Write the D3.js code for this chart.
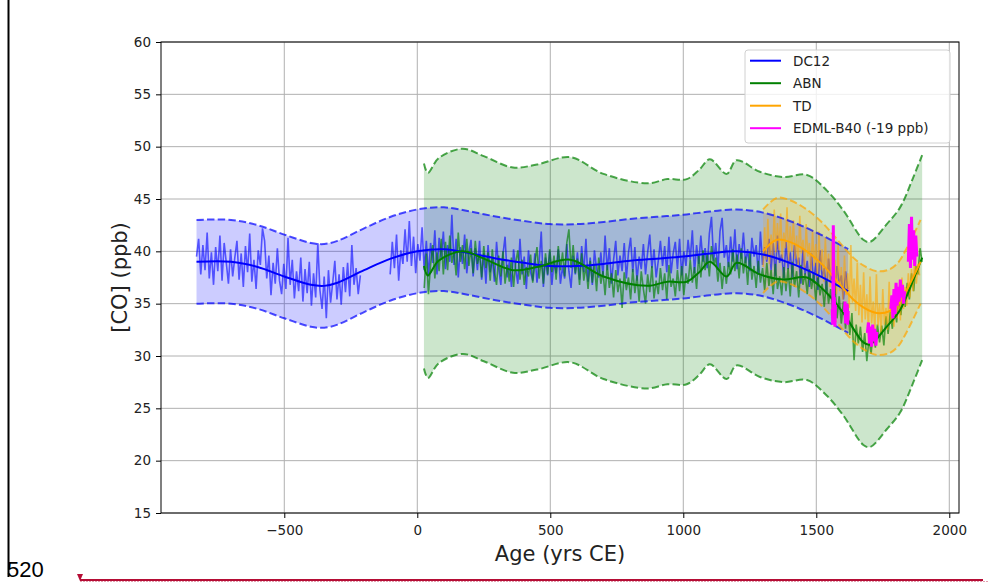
<!DOCTYPE html>
<html>
<head>
<meta charset="utf-8">
<script src="https://cdn.jsdelivr.net/npm/d3@7"></script>
<style>
body { margin: 0; background: #fff; }
svg { display: block; font-family: "DejaVu Sans", sans-serif; }
</style>
</head>
<body>
<script>

/* DATA */

const xTicks = [-500, 0, 500, 1000, 1500, 2000];
const yTicks = [15, 20, 25, 30, 35, 40, 45, 50, 55, 60];

//DC12 raw record, two stretches sampled every 8 years.
const dc12AgesA = d3.range(-830, -210, 8);
const dc12RawA = [
    39.5, 41.2, 37.8, 40.6, 38.2, 41.8, 37.4, 39.9, 36.8, 40.4,
    38.1, 41.5, 37.2, 40.8, 38.9, 36.9, 40.2, 37.6, 39.4, 41.0,
    37.3, 39.8, 36.6, 40.5, 38.0, 41.7, 37.1, 39.2, 36.4, 40.1,
    38.7, 42.2, 41.0, 37.4, 39.6, 35.8, 38.9, 36.9, 40.3, 37.2,
    35.9, 38.8, 36.4, 41.3, 36.8, 39.2, 35.5, 38.1, 36.2, 39.4,
    35.2, 38.3, 36.0, 39.0, 34.8, 37.9, 35.6, 40.8, 36.3, 34.5,
    37.6, 33.6, 38.2, 35.1, 37.0, 39.1, 35.4, 37.8, 34.9, 38.5,
    36.1, 38.9, 35.7, 40.6, 36.8, 38.4, 35.9, 37.7
];
const dc12AgesB = d3.range(-102, 1620, 8);
const dc12RawB = [
    37.8, 40.9, 38.4, 41.6, 37.2, 40.1, 38.8, 42.1, 39.0,
    42.9, 38.6, 41.4, 37.9, 40.7, 39.1, 42.3, 38.2, 41.0, 37.6,
    40.8, 38.9, 42.0, 37.8, 41.3, 39.4, 41.9, 38.3, 40.6, 39.0,
    43.5, 38.7, 41.2, 37.5, 40.4, 38.8, 41.6, 37.9, 39.9, 41.1,
    37.6, 40.3, 38.2, 41.0, 37.3, 39.8, 36.9, 40.6, 38.0, 39.3,
    37.1, 40.9, 38.4, 36.8, 39.7, 41.4, 37.5, 39.0, 36.6, 40.2,
    38.3, 36.9, 41.2, 37.8, 39.5, 36.4, 40.1, 38.0, 37.2, 39.8,
    37.0, 38.9, 41.9, 36.6, 39.4, 37.7, 40.0, 36.8, 39.1, 37.9,
    40.2, 36.9, 38.5, 37.4, 40.7, 38.1, 36.5, 39.6, 37.8, 39.9,
    37.3, 40.5, 38.0, 41.2, 37.1, 39.4, 36.8, 40.1, 38.3, 37.5,
    39.9, 37.6, 41.5, 38.2, 40.3, 36.9, 39.2, 41.0, 37.7, 39.6,
    38.1, 40.8, 37.4, 39.9, 41.3, 38.0, 40.4, 37.2, 39.5, 38.3,
    40.7, 37.8, 39.9, 41.6, 38.4, 40.2, 37.5, 39.1, 41.0, 38.6,
    40.5, 38.0, 41.4, 37.9, 39.8, 40.9, 38.3, 41.2, 37.7, 40.0,
    38.6, 41.1, 39.2, 42.0, 37.9, 40.6, 38.8, 41.5, 39.0, 40.3,
    38.4, 41.7, 43.3, 39.1, 40.8, 38.2, 41.9, 43.2, 39.4, 40.6,
    38.5, 41.4, 39.0, 42.1, 38.3, 40.7, 39.3, 41.8, 38.9, 40.2,
    38.1, 41.3, 39.5, 40.6, 37.8, 41.9, 38.7, 40.4, 39.0, 41.2,
    38.2, 40.8, 37.6, 41.5, 38.9, 39.7, 37.4, 40.9, 38.3, 39.9,
    37.5, 40.6, 38.7, 39.4, 36.9, 40.2, 37.8, 39.1, 36.6, 39.8,
    37.0, 38.9, 36.3, 40.1, 37.5, 38.4, 36.1, 39.3, 37.2, 38.0,
    35.8, 38.6, 36.9, 37.7, 35.4, 38.1, 36.4
];
const dc12SmoothAges = [-830, -700, -600, -500, -400, -350, -300, -200, -100, 0, 100, 200, 300, 400, 500, 600, 700, 800, 900, 1000, 1100, 1200, 1300, 1400, 1500, 1620];
const dc12Smooth = [39.0, 39.0, 38.5, 37.6, 36.8, 36.7, 37.0, 38.2, 39.3, 40.0, 40.2, 39.8, 39.3, 38.9, 38.6, 38.6, 38.8, 39.1, 39.3, 39.5, 39.8, 40.0, 39.7, 38.9, 37.8, 36.2];
const dc12Band = 4.0;

//ABN raw record, every 8 years.
const abnAges = d3.range(26, 1900, 8);
const abnRaw = [
    36.5, 39.8, 35.9, 38.7, 40.6, 37.4, 39.9, 38.1, 41.2, 37.8,
    40.9, 38.2, 41.5, 38.9, 40.1, 37.7, 41.8, 39.0, 40.6, 38.3,
    41.2, 38.6, 40.3, 37.9, 41.0, 38.8, 39.7, 37.5, 40.5, 38.4,
    39.9, 37.2, 40.2, 38.0, 36.8, 39.6, 37.6, 40.0, 36.9, 38.7,
    37.1, 39.4, 36.6, 38.9, 40.1, 37.3, 39.2, 36.8, 38.5, 37.6,
    39.7, 37.0, 38.9, 40.4, 37.4, 39.1, 36.9, 39.8, 37.8, 40.2,
    38.0, 39.6, 37.3, 40.5, 38.2, 39.9, 37.6, 40.8, 42.1, 38.4,
    40.6, 37.9, 39.3, 36.8, 39.8, 37.2, 38.6, 36.4, 39.1, 37.0,
    38.8, 36.2, 39.4, 36.9, 38.1, 35.8, 38.7, 36.5, 37.9, 35.6,
    38.2, 36.1, 37.4, 34.6, 38.0, 36.3, 37.5, 35.4, 38.3, 36.0,
    37.7, 35.2, 38.1, 36.4, 35.0, 37.8, 36.1, 38.6, 35.5, 37.2,
    35.9, 38.4, 36.3, 37.9, 35.4, 38.7, 36.6, 37.4, 35.7, 38.2,
    36.2, 38.6, 35.8, 37.9, 36.9, 39.2, 37.0, 38.5, 36.4, 39.6,
    37.5, 40.1, 38.2, 39.8, 37.6, 40.5, 38.7, 39.4, 37.1, 38.9,
    36.4, 38.6, 36.9, 39.0, 37.8, 40.2, 38.1, 39.7, 37.4, 40.3,
    37.9, 39.5, 36.8, 39.9, 37.3, 38.6, 36.5, 39.1, 37.0, 38.4,
    36.3, 38.9, 36.7, 38.2, 35.9, 38.8, 36.4, 37.6, 35.8, 38.5,
    36.2, 38.4, 35.7, 39.0, 36.6, 38.1, 35.6, 38.7, 36.8, 37.9,
    35.9, 38.3, 36.4, 37.8, 35.3, 37.6, 35.8, 36.9, 34.7, 37.2,
    35.0, 36.4, 34.2, 36.8, 33.6, 35.7, 33.1, 35.2, 32.6, 34.9,
    32.0, 34.1, 29.6, 33.0, 31.2, 32.8, 30.4, 32.2, 29.5, 31.6,
    30.2, 32.4, 30.8, 33.0, 31.3, 32.9, 31.0, 33.8, 32.1, 34.2,
    32.6, 34.8, 33.2, 35.6, 33.9, 36.1, 34.7, 37.0, 35.4, 37.9,
    36.2, 38.6, 37.8, 40.3, 39.0
];
const abnSmoothAges = [25, 40, 80, 170, 250, 360, 450, 575, 700, 864, 940, 1013, 1060, 1100, 1163, 1200, 1288, 1375, 1465, 1540, 1602, 1677, 1702, 1765, 1815, 1865, 1898];
const abnSmooth = [38.6, 37.7, 39.1, 40.0, 39.3, 38.2, 38.5, 39.2, 37.6, 36.7, 37.1, 37.1, 38.0, 39.0, 37.6, 38.9, 37.8, 37.3, 37.5, 36.0, 34.1, 31.3, 31.1, 32.8, 34.4, 37.3, 39.4];
const abnBand = 9.8;

//TD raw record, every 6 years.
const tdAges = d3.range(1300, 1892, 6);
const tdRaw = [
    38.5, 42.3, 39.2, 43.1, 38.8, 41.6, 39.6, 44.0, 39.9, 42.7,
    40.1, 43.6, 39.4, 41.8, 40.3, 44.2, 39.1, 42.4, 40.0, 43.0,
    39.3, 41.5, 38.7, 43.4, 39.8, 41.1, 38.4, 42.6, 39.5, 40.8,
    37.9, 42.0, 38.6, 40.7, 37.5, 41.9, 38.2, 40.2, 37.1, 41.3,
    37.4, 39.8, 36.6, 40.9, 37.0, 39.2, 35.9, 40.6, 36.2, 38.5,
    35.4, 39.6, 35.8, 37.9, 34.6, 40.6, 35.1, 37.4, 34.3, 38.9,
    33.9, 36.8, 33.2, 38.0, 33.5, 35.9, 32.6, 37.6, 33.1, 35.2,
    32.4, 37.8, 32.9, 35.0, 32.2, 36.4, 33.0, 34.6, 32.5, 37.1,
    33.1, 35.3, 32.8, 36.9, 33.6, 35.8, 33.4, 37.5, 34.5, 36.6,
    34.8, 37.9, 35.6, 38.3, 36.2, 39.6, 36.9, 38.8, 37.7
];
const tdSmoothAges = [1300, 1351, 1400, 1464, 1520, 1563, 1600, 1639, 1680, 1728, 1777, 1810, 1840, 1892];
const tdSmooth = [40.0, 41.1, 40.9, 40.0, 38.8, 37.6, 36.5, 35.4, 34.6, 34.1, 34.3, 35.0, 36.3, 39.0];
const tdBand = 4.0;

//EDML-B40 (shifted -19 ppb), null marks a gap between stretches.
const edmlAges = [
    1560, 1562, 1564, 1566, 1568, 1570, 1572, 1590,
    1606, 1608, 1610, 1612, 1614, 1616, 1618, 1620, 1650,
    1692, 1696, 1700, 1704, 1708, 1712, 1716, 1720, 1724, 1728, 1750,
    1780, 1784, 1788, 1792, 1796, 1800, 1804, 1808, 1812, 1816, 1820, 1824, 1828, 1832, 1840,
    1846, 1850, 1854, 1858, 1862, 1866, 1870, 1874, 1878
];
const edmlValues = [
    34.5, 33.0, 42.5, 33.4, 35.6, 32.8, 34.9, null,
    34.2, 35.2, 33.1, 34.9, 33.4, 35.0, 33.0, 34.3, null,
    32.2, 33.2, 31.2, 32.8, 30.9, 33.0, 31.4, 32.6, 31.0, 32.3, null,
    34.5, 35.8, 33.6, 36.4, 34.0, 37.0, 34.8, 36.6, 35.2, 37.3, 35.6, 36.8, 35.0, 36.2, null,
    39.0, 42.6, 38.4, 43.3, 39.2, 42.0, 38.6, 41.5, 39.5
];

const legendLabels = ["DC12", "ABN", "TD", "EDML-B40 (-19 ppb)"];
const legendColors = ["blue", "green", "orange", "magenta"];


/* CONSTANTS */

const width = 989;
const height = 584;
const plot = {left: 161, right: 959, top: 42, bottom: 513};
const dash = "7.4,3.2";

const svg = d3.select("body").append("svg")
    .attr("width", width)
    .attr("height", height);

svg.append("rect")
    .attr("width", width)
    .attr("height", height)
    .attr("fill", "white");

const x = d3.scaleLinear().domain([-963.5, 2036.5]).range([plot.left, plot.right]);
const y = d3.scaleLinear().domain([15, 60]).range([plot.bottom, plot.top]);

const pairs = (ages, vals) => ages.map((a, i) => [a, vals[i]]);

const rawLine = d3.line()
    .defined((d) => d[1] != null)
    .x((d) => x(d[0]))
    .y((d) => y(d[1]));

const smoothLine = (shift) => d3.line()
    .x((d) => x(d[0]))
    .y((d) => y(d[1] + shift))
    .curve(d3.curveCatmullRom);

const bandArea = (h) => d3.area()
    .x((d) => x(d[0]))
    .y0((d) => y(d[1] - h))
    .y1((d) => y(d[1] + h))
    .curve(d3.curveCatmullRom);

const dc12S = pairs(dc12SmoothAges, dc12Smooth);
const abnS = pairs(abnSmoothAges, abnSmooth);
const tdS = pairs(tdSmoothAges, tdSmooth);


/* GRID */

const grid = svg.append("g").attr("stroke", "#b0b0b0").attr("stroke-width", 1);
grid.selectAll("line.v")
    .data(xTicks)
    .enter()
    .append("line")
    .attr("class", "v")
    .attr("x1", (d) => x(d)).attr("x2", (d) => x(d))
    .attr("y1", plot.top).attr("y2", plot.bottom);
grid.selectAll("line.h")
    .data(yTicks)
    .enter()
    .append("line")
    .attr("class", "h")
    .attr("x1", plot.left).attr("x2", plot.right)
    .attr("y1", (d) => y(d)).attr("y2", (d) => y(d));


/* SERIES */

const g = svg.append("g");

//Uncertainty bands.
g.append("path").datum(abnS).attr("d", bandArea(abnBand)).attr("fill", "green").attr("fill-opacity", 0.2);
g.append("path").datum(dc12S).attr("d", bandArea(dc12Band)).attr("fill", "blue").attr("fill-opacity", 0.2);
g.append("path").datum(tdS).attr("d", bandArea(tdBand)).attr("fill", "orange").attr("fill-opacity", 0.2);

//Raw records.
[[pairs(dc12AgesA, dc12RawA), "blue", 0.6],
 [pairs(dc12AgesB, dc12RawB), "blue", 0.6],
 [pairs(abnAges, abnRaw), "green", 0.65],
 [pairs(tdAges, tdRaw), "orange", 0.6]].forEach((s) => {
    g.append("path")
        .datum(s[0])
        .attr("d", rawLine)
        .attr("fill", "none")
        .attr("stroke", s[1])
        .attr("stroke-opacity", s[2])
        .attr("stroke-width", 1.6)
        .attr("stroke-linejoin", "bevel");
});

//Smoothed curves and their dashed envelopes.
[[dc12S, "blue", dc12Band], [abnS, "green", abnBand], [tdS, "orange", tdBand]].forEach((s) => {
    g.append("path")
        .datum(s[0])
        .attr("d", smoothLine(0))
        .attr("fill", "none")
        .attr("stroke", s[1])
        .attr("stroke-width", 2);
    [-s[2], s[2]].forEach((h) => {
        g.append("path")
            .datum(s[0])
            .attr("d", smoothLine(h))
            .attr("fill", "none")
            .attr("stroke", s[1])
            .attr("stroke-opacity", 0.7)
            .attr("stroke-width", 2)
            .attr("stroke-dasharray", dash);
    });
});

g.append("path")
    .datum(pairs(edmlAges, edmlValues))
    .attr("d", rawLine)
    .attr("fill", "none")
    .attr("stroke", "magenta")
    .attr("stroke-width", 3);


/* AXES */

svg.append("rect")
    .attr("x", plot.left).attr("y", plot.top)
    .attr("width", plot.right - plot.left)
    .attr("height", plot.bottom - plot.top)
    .attr("fill", "none")
    .attr("stroke", "black")
    .attr("stroke-width", 1);

const xAxis = svg.append("g")
    .attr("transform", `translate(0,${plot.bottom})`)
    .call(d3.axisBottom(x).tickValues(xTicks).tickFormat(d3.format("d")).tickSize(5).tickPadding(7));
const yAxis = svg.append("g")
    .attr("transform", `translate(${plot.left},0)`)
    .call(d3.axisLeft(y).tickValues(yTicks).tickFormat(d3.format("d")).tickSize(5).tickPadding(5));
[xAxis, yAxis].forEach((a) => {
    a.select(".domain").remove();
    a.selectAll("text").attr("font-size", "13.5px").attr("font-family", "DejaVu Sans").attr("fill", "#222");
});

svg.append("text")
    .attr("x", (plot.left + plot.right) / 2)
    .attr("y", 561)
    .attr("text-anchor", "middle")
    .attr("font-size", "21px")
    .attr("fill", "#222")
    .text("Age (yrs CE)");

svg.append("text")
    .attr("transform", `translate(127,${(plot.top + plot.bottom) / 2}) rotate(-90)`)
    .attr("text-anchor", "middle")
    .attr("font-size", "21px")
    .attr("fill", "#222")
    .text("[CO] (ppb)");


//Legend.
const legend = svg.append("g").attr("transform", "translate(745,50)");
legend.append("rect")
    .attr("width", 205).attr("height", 93)
    .attr("rx", 3)
    .attr("fill", "white").attr("fill-opacity", 0.8)
    .attr("stroke", "#d0d0d0");
legendLabels.forEach((label, i) => {
    const ly = 10.7 + i * 22.5;
    legend.append("line")
        .attr("x1", 5).attr("x2", 36)
        .attr("y1", ly).attr("y2", ly)
        .attr("stroke", legendColors[i])
        .attr("stroke-width", 2);
    legend.append("text")
        .attr("x", 48).attr("y", ly + 5)
        .attr("font-size", "13.5px")
        .attr("fill", "#222")
        .text(label);
});


/* PAGE MARKS AROUND THE FIGURE */

svg.append("line")
    .attr("x1", 8.5).attr("x2", 8.5)
    .attr("y1", 0).attr("y2", 577)
    .attr("stroke", "black").attr("stroke-width", 2);

svg.append("text")
    .attr("x", 7).attr("y", 577)
    .attr("font-family", "Liberation Sans, Arial, sans-serif")
    .attr("font-size", "22px")
    .attr("fill", "black")
    .text("520");

svg.append("line")
    .attr("x1", 80).attr("x2", 989)
    .attr("y1", 581.5).attr("y2", 581.5)
    .attr("stroke", "#e3a0b0").attr("stroke-width", 1)
    .attr("stroke-dasharray", "2,1");
svg.append("line")
    .attr("x1", 80).attr("x2", 983)
    .attr("y1", 580).attr("y2", 580)
    .attr("stroke", "#b50d35").attr("stroke-width", 2);
svg.append("path")
    .attr("d", "M77,574L83,574L80,581Z")
    .attr("fill", "#b50d35");

</script>
</body>
</html>
